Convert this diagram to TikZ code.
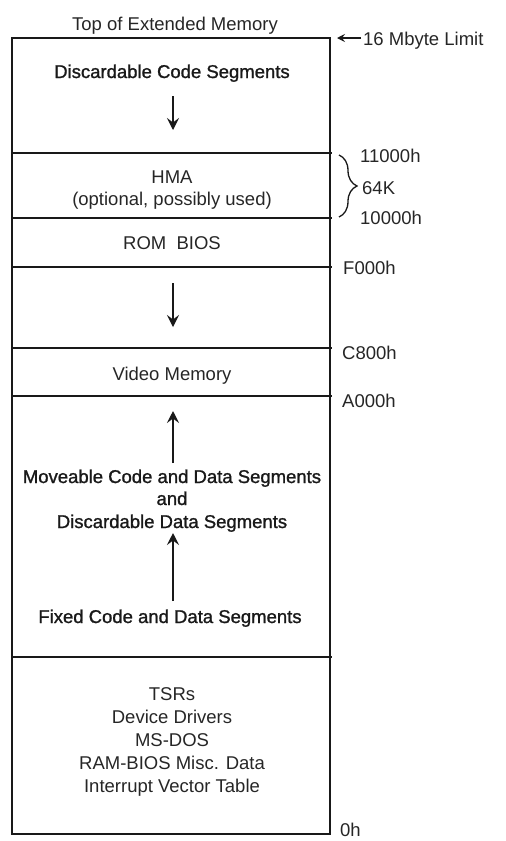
\documentclass[tikz,border=0pt]{standalone}
\usepackage{fontspec}
\setmainfont{Liberation Sans}
\newfontfamily\heavyfont[FakeBold=1.2]{Liberation Sans}
\usetikzlibrary{arrows.meta,decorations.pathreplacing}
\begin{document}
\begin{tikzpicture}[x=1pt,y=-1pt,
  lbl/.style={font=\fontsize{18.5}{23}\selectfont, inner sep=0pt, text=black!85, anchor=base},
  heavy/.style={lbl, font=\heavyfont\fontsize{18.5}{23}\selectfont, text=black!90},
  lblw/.style={lbl, anchor=base west},
  region/.style={line width=1.2pt, draw=black!90},
  growth/.style={-{Stealth[length=12pt,width=12pt,inset=4.5pt]}, line width=1.3pt, draw=black!90},
  limarrow/.style={-{Stealth[length=8pt,width=8pt,inset=3pt]}, line width=1.1pt, draw=black!90},
  bracestyle/.style={decorate, decoration={brace, amplitude=18pt}, line width=1.3pt, draw=black!90}]
\useasboundingbox (0,0) rectangle (506,841);

% memory column
\draw[region] (12,38) rectangle (330,834);
\foreach \y in {153,218,267,348,396,657} \draw[region] (12,\y) -- (332,\y);

% labels inside the column
\node[lbl] (top) at (175,30) {Top of Extended Memory};
\node[heavy] (dcs) at (172,78) {Discardable Code Segments};
\node[lbl] (hma) at (172,183) {HMA};
\node[lbl] (hmaopt) at (172,205) {(optional, possibly used)};
\node[lbl] (rom) at (172,249) {ROM\ \ BIOS};
\node[lbl] (video) at (172,380) {Video Memory};
\node[heavy] (move) at (172,483) {Moveable Code and Data Segments};
\node[heavy] (and) at (172,505) {and};
\node[heavy] (dds) at (172,528) {Discardable Data Segments};
\node[heavy] (fixed) at (170,623) {Fixed Code and Data Segments};
\node[lbl] (tsr) at (172,700) {TSRs};
\node[lbl] (dev) at (172,723) {Device Drivers};
\node[lbl] (dos) at (172,746) {MS-DOS};
\node[lbl] (rambios) at (172,769) {RAM-BIOS Misc. Data};
\node[lbl] (ivt) at (172,792) {Interrupt Vector Table};

% address labels on the right
\node[lblw] (lim) at (363,45) {16 Mbyte Limit};
\node[lblw] (a11000) at (360,162) {11000h};
\node[lblw] (k64) at (362,194) {64K};
\node[lblw] (a10000) at (360,224) {10000h};
\node[lblw] (f000) at (343,274) {F000h};
\node[lblw] (c800) at (342,359) {C800h};
\node[lblw] (a000) at (342,407) {A000h};
\node[lblw] (zero) at (340,836) {0h};

% arrows
\coordinate (limtail) at (361,38);
\coordinate (limtip) at (337,38);
\draw[limarrow] (limtail) -- (limtip);

\coordinate (d1s) at (173,96);
\coordinate (d1e) at (173,130);
\draw[growth] (d1s) -- (d1e);

\coordinate (d2s) at (173,283);
\coordinate (d2e) at (173,327);
\draw[growth] (d2s) -- (d2e);

\coordinate (u1s) at (173,463);
\coordinate (u1e) at (173,411);
\draw[growth] (u1s) -- (u1e);

\coordinate (u2s) at (173,601);
\coordinate (u2e) at (173,533);
\draw[growth] (u2s) -- (u2e);

% HMA brace
\coordinate (brtop) at (339,155);
\coordinate (brbot) at (339,217);
\draw[bracestyle] (brtop) -- (brbot);
\end{tikzpicture}
\end{document}
